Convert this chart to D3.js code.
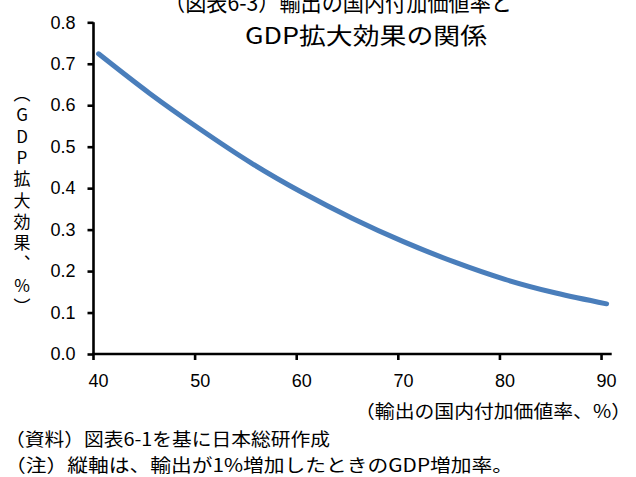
<!DOCTYPE html>
<html lang="ja">
<head>
<meta charset="UTF-8">
<title>輸出の国内付加価値率とGDP拡大効果の関係</title>
<style>
  body { margin: 0; padding: 0; background: #fff; }
  svg { display: block; font-family: "Liberation Sans", Arial, "Noto Sans CJK JP", sans-serif; }
  .jp { font-family: "Noto Sans CJK JP", sans-serif; }
  .axis path, .axis line { stroke: #000; stroke-width: 2.6px; }
  .axis text { font-size: 18px; fill: #000; }
</style>
</head>
<body>
<div id="chart"></div>
<script src="https://d3js.org/d3.v7.min.js"></script>
<script>
// 横軸: 輸出の国内付加価値率（%）、40〜90 の各整数が1カテゴリ
const categories = d3.range(40, 91);
const tickValues = [40, 50, 60, 70, 80, 90];
const yTicks = [0.0, 0.1, 0.2, 0.3, 0.4, 0.5, 0.6, 0.7, 0.8];

// 図から読み取った値（5%刻み）
const rateX = [40, 45, 50, 55, 60, 65, 70, 75, 80, 85, 90];
const gdpEffect = [0.724, 0.629, 0.542, 0.461, 0.390, 0.327, 0.271, 0.222, 0.180, 0.147, 0.121];

const titleLines = ["（図表6-3）輸出の国内付加価値率と", "GDP拡大効果の関係"];
const yTitle = "（GDP拡大効果、%）";
const xTitle = "（輸出の国内付加価値率、%）";
const notes = ["（資料）図表6-1を基に日本総研作成", "（注）縦軸は、輸出が1%増加したときのGDP増加率。"];

const W = 636, H = 477;
const plot = { left: 93.5, right: 611.7, top: 22.3, bottom: 354 };

const svg = d3.select("#chart").append("svg")
    .attr("width", W)
    .attr("height", H);

const x = d3.scaleBand()
    .domain(categories)
    .range([plot.left, plot.right])
    .paddingInner(0).paddingOuter(0);

const y = d3.scaleLinear()
    .domain([0, 0.8])
    .range([plot.bottom, plot.top]);

// 線
const line = d3.line()
    .x((d, i) => x(rateX[i]) + x.bandwidth() / 2)
    .y(d => y(d))
    .curve(d3.curveMonotoneX);

svg.append("path")
    .datum(gdpEffect)
    .attr("fill", "none")
    .attr("stroke", "#4a7ebb")
    .attr("stroke-width", 5)
    .attr("stroke-linecap", "round")
    .attr("d", line);

// 縦軸
const yAxis = svg.append("g")
    .attr("class", "axis")
    .attr("transform", `translate(${plot.left},0)`)
    .call(d3.axisLeft(y).tickValues(yTicks).tickFormat(d3.format(".1f")).tickSize(6).tickPadding(12));
yAxis.select(".domain").attr("d", `M0,${plot.top}V${plot.bottom}`);

// 横軸（目盛りはカテゴリ境界、ラベルはカテゴリ中央）
const xAxis = svg.append("g")
    .attr("class", "axis")
    .attr("transform", `translate(0,${plot.bottom})`);
xAxis.append("line")
    .attr("x1", plot.left - 1.3).attr("x2", plot.right)
    .attr("y1", 0).attr("y2", 0);
const xt = xAxis.selectAll(".tick")
    .data(tickValues)
    .enter().append("g")
    .attr("class", "tick");
xt.append("line")
    .attr("x1", d => x(d)).attr("x2", d => x(d))
    .attr("y1", 0).attr("y2", 6);
xt.append("text")
    .attr("x", d => x(d) + x.bandwidth() / 2)
    .attr("y", 33)
    .attr("text-anchor", "middle")
    .text(d => d);

// タイトル（上端で切れているのは元図どおり）
svg.append("text")
    .attr("class", "jp")
    .attr("x", 338).attr("y", 11)
    .attr("text-anchor", "middle")
    .attr("font-size", 23)
    .attr("textLength", 348).attr("lengthAdjust", "spacingAndGlyphs")
    .text(titleLines[0]);
svg.append("text")
    .attr("class", "jp")
    .attr("x", 366).attr("y", 44)
    .attr("text-anchor", "middle")
    .attr("font-size", 23)
    .attr("textLength", 242).attr("lengthAdjust", "spacingAndGlyphs")
    .text(titleLines[1]);

// 縦軸タイトル（1文字ずつ縦に並べる、1つのtext要素で文字ごとに位置指定）
const vertForm = { "（": "︵", "）": "︶", "、": "︑" };
const yChars = Array.from(yTitle).map(c => vertForm[c] || c);
svg.append("text")
    .attr("class", "jp")
    .attr("x", yChars.map(() => 22).join(" "))
    .attr("y", yChars.map((c, i) => 100 + i * 21.3).join(" "))
    .attr("text-anchor", "middle")
    .attr("font-size", 17)
    .text(yChars.join(""));

// 横軸タイトル
svg.append("text")
    .attr("class", "jp")
    .attr("x", 631).attr("y", 418)
    .attr("text-anchor", "end")
    .attr("font-size", 18)
    .attr("textLength", 276).attr("lengthAdjust", "spacingAndGlyphs")
    .text(xTitle);

// 注記
svg.append("text")
    .attr("class", "jp")
    .attr("x", 5).attr("y", 446)
    .attr("font-size", 18)
    .attr("textLength", 325).attr("lengthAdjust", "spacingAndGlyphs")
    .text(notes[0]);
svg.append("text")
    .attr("class", "jp")
    .attr("x", 5).attr("y", 472)
    .attr("font-size", 18)
    .attr("textLength", 508).attr("lengthAdjust", "spacingAndGlyphs")
    .text(notes[1]);
</script>
</body>
</html>
